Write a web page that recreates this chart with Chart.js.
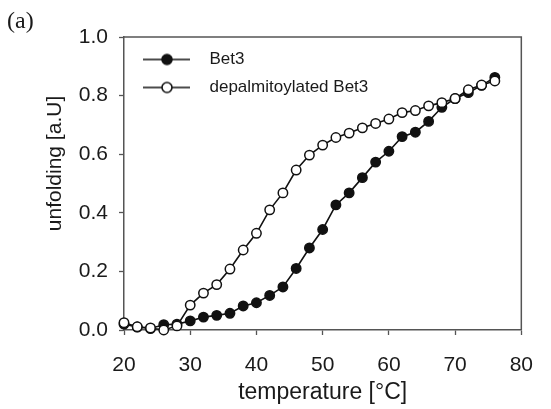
<!DOCTYPE html>
<html><head><meta charset="utf-8">
<script src="https://cdn.jsdelivr.net/npm/chart.js@4"></script>
<style>html,body{margin:0;padding:0;background:#fff}#wrap{width:551px;height:409px}</style>
</head><body><div id="wrap"><canvas id="c" width="551" height="409"></canvas></div>
<script>
const temperatures = [20,22,24,26,28,30,32,34,36,38,40,42,44,46,48,50,52,54,56,58,60,62,64,66,68,70,72,74,76];
const bet3 = [0.02,0.01,0.005,0.018,0.02,0.031,0.044,0.05,0.057,0.082,0.093,0.118,0.147,0.21,0.28,0.343,0.427,0.468,0.52,0.573,0.61,0.66,0.675,0.712,0.76,0.79,0.81,0.835,0.862];
const depalmitoylatedBet3 = [0.025,0.011,0.007,0.0,0.014,0.085,0.126,0.155,0.208,0.273,0.33,0.41,0.468,0.546,0.597,0.631,0.657,0.672,0.69,0.705,0.72,0.742,0.749,0.765,0.776,0.79,0.82,0.836,0.85];
const xTickValues = [20,30,40,50,60,70,80];
const yTickValues = [0,0.2,0.4,0.6,0.8,1.0];
const seriesNames = ['Bet3','depalmitoylated Bet3'];
const xTitle = 'temperature [°C]';
const yTitle = 'unfolding [a.U]';
const panelLabel = '(a)';

const INK = '#1a1a1a';
const AXIS = '#555555';

function legendImage(filled){
  const c = document.createElement('canvas');
  c.width = 66; c.height = 14;
  const g = c.getContext('2d');
  g.strokeStyle = '#111'; g.lineWidth = 1.6;
  g.beginPath(); g.moveTo(8,7); g.lineTo(55,7); g.stroke();
  g.beginPath(); g.arc(32,7,5,0,Math.PI*2);
  g.fillStyle = filled ? '#111' : '#fff'; g.fill(); g.stroke();
  return c;
}
const legendImgs = [legendImage(true), legendImage(false)];

const framePlugin = {
  id: 'frame',
  afterDraw(chart){
    const {ctx, chartArea:a} = chart;
    ctx.save();
    ctx.strokeStyle = AXIS; ctx.lineWidth = 1.5;
    ctx.beginPath();
    ctx.moveTo(a.left, a.top); ctx.lineTo(a.right, a.top); ctx.lineTo(a.right, a.bottom);
    ctx.stroke();
    ctx.fillStyle = INK;
    ctx.font = '21px "Liberation Sans", Arial, sans-serif';
    ctx.textAlign = 'center'; ctx.textBaseline = 'middle';
    ctx.translate(55, 163.5); ctx.rotate(-Math.PI/2);
    ctx.fillText(yTitle, 0, 0);
    ctx.restore();
    ctx.save();
    ctx.fillStyle = INK;
    ctx.font = '24px "Liberation Serif", "Times New Roman", serif';
    ctx.textAlign = 'left'; ctx.textBaseline = 'middle';
    ctx.fillText(panelLabel, 7, 22);
    ctx.restore();
  }
};

new Chart(document.getElementById('c'), {
  type: 'line',
  data: {
    labels: temperatures,
    datasets: [
      {label: seriesNames[0], data: temperatures.map((t,i)=>({x:t,y:bet3[i]})), order: 1,
       borderColor:'#111', borderWidth:1.6, pointRadius:4.7, pointBorderWidth:1.5,
       pointBackgroundColor:'#111', pointBorderColor:'#111', tension:0, clip:false},
      {label: seriesNames[1], data: temperatures.map((t,i)=>({x:t,y:depalmitoylatedBet3[i]})), order: 0,
       borderColor:'#111', borderWidth:1.6, pointRadius:4.7, pointBorderWidth:1.5,
       pointBackgroundColor:'#fff', pointBorderColor:'#111', tension:0, clip:false}
    ]
  },
  options: {
    responsive:false, animation:false, devicePixelRatio:1,
    layout:{padding:{top:37,right:15,left:0,bottom:0}},
    plugins:{
      tooltip:{enabled:false},
      legend:{
        position:'chartArea', align:'start',
        title:{display:true, text:'', font:{size:10}, padding:{top:0, bottom:28}},
        labels:{
          usePointStyle:true, pointStyleWidth:66, padding:11,
          color:INK, font:{size:17, family:'"Liberation Sans", Arial, sans-serif'},
          generateLabels:(chart)=>seriesNames.map((n,i)=>({text:n, pointStyle:legendImgs[i], datasetIndex:i, fontColor:INK, lineWidth:0, strokeStyle:'rgba(0,0,0,0)', fillStyle:'rgba(0,0,0,0)', hidden:false}))
        }
      }
    },
    scales:{
      x:{type:'linear', min:20, max:80,
        afterBuildTicks:(s)=>{s.ticks = xTickValues.map(v=>({value:v}));},
        afterFit:(s)=>{s.height = 79;},
        ticks:{color:INK, padding:18, font:{size:21, family:'"Liberation Sans", Arial, sans-serif'}, maxRotation:0},
        grid:{display:true, drawOnChartArea:false, drawTicks:true, tickLength:5, tickColor:AXIS, tickWidth:1.3},
        border:{display:true, color:AXIS, width:1.5},
        title:{display:true, text:xTitle, color:INK, font:{size:23, family:'"Liberation Sans", Arial, sans-serif'}, padding:{top:0,bottom:3}}
      },
      y:{type:'linear', min:0, max:1,
        afterBuildTicks:(s)=>{s.ticks = yTickValues.map(v=>({value:v}));},
        afterFit:(s)=>{s.width = 124;},
        ticks:{color:INK, padding:11, font:{size:21, family:'"Liberation Sans", Arial, sans-serif'}, callback:(v)=>Number(v).toFixed(1)},
        grid:{display:true, drawOnChartArea:false, drawTicks:true, tickLength:5, tickColor:AXIS, tickWidth:1.3},
        border:{display:true, color:AXIS, width:1.5}
      }
    }
  },
  plugins:[framePlugin]
});
</script>
</body></html>
